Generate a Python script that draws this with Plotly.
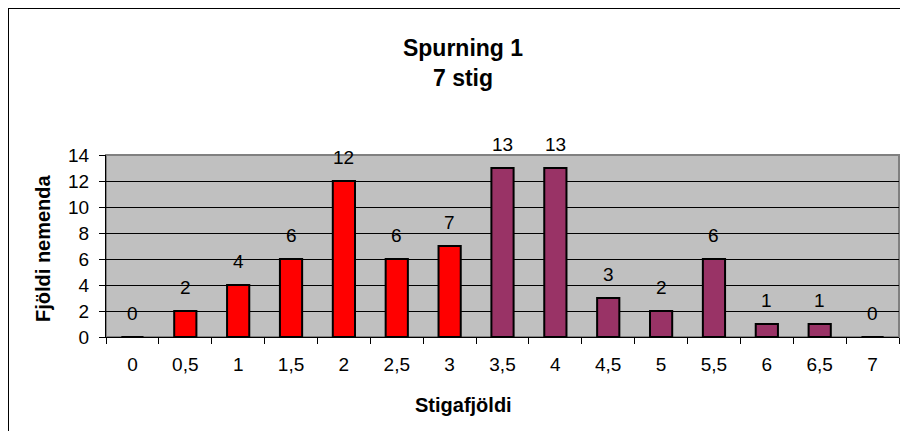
import plotly.graph_objects as go

categories = ["0", "0,5", "1", "1,5", "2", "2,5", "3", "3,5", "4", "4,5", "5", "5,5", "6", "6,5", "7"]
counts = [0, 2, 4, 6, 12, 6, 7, 13, 13, 3, 2, 6, 1, 1, 0]
split_index = 7  # first 7 categories red, rest purple

colors = ["#FF0000" if i < split_index else "#993366" for i in range(len(categories))]

OFF = 8  # page body margin
W, H = 908 - 2 * OFF, 439 - 2 * OFF   # fit inside the window without scrollbars
# plot area in screenshot pixels: x 106..899, y 155..337
L, T = 106 - OFF, 155 - OFF
R = (W + OFF) - 899
B = (H + OFF) - 337
pw, ph = W - L - R, H - T - B
FONT = "Liberation Sans, Arial"

def px_to_paper_x(px):
    return (px - OFF - L) / pw

def px_to_paper_y(py):
    return (H - B - (py - OFF)) / ph

fig = go.Figure()
fig.add_trace(go.Bar(
    x=list(range(len(categories))), y=counts,
    marker=dict(color=colors, line=dict(color="black", width=2)),
    width=0.42,
    showlegend=False,
    hoverinfo="y",
))

for i, v in enumerate(counts):
    fig.add_annotation(x=i, y=v, text=str(v), showarrow=False,
                       xanchor="center", yanchor="middle", yshift=24,
                       font=dict(family=FONT, size=19, color="black"))

# axis titles
fig.add_annotation(xref="paper", yref="paper", x=px_to_paper_x(463), y=px_to_paper_y(405),
                   text="<b>Stigafjöldi</b>", showarrow=False, xanchor="center", yanchor="middle",
                   font=dict(family=FONT, size=20, color="black"))
fig.add_annotation(xref="paper", yref="paper", x=px_to_paper_x(43), y=px_to_paper_y(248),
                   text="<b>Fjöldi nemenda</b>", showarrow=False, textangle=-90,
                   xanchor="center", yanchor="middle",
                   font=dict(family=FONT, size=20, color="black"))

# plot-area border (grey)
fig.add_shape(type="rect", xref="paper", yref="paper", x0=0, x1=1, y0=0, y1=1,
              line=dict(color="#808080", width=2), layer="below")
# outer chart border: only top and left edges visible in the frame
fig.add_shape(type="line", xref="paper", yref="paper",
              x0=px_to_paper_x(8), x1=px_to_paper_x(W + OFF),
              y0=px_to_paper_y(8), y1=px_to_paper_y(8),
              line=dict(color="black", width=2))
fig.add_shape(type="line", xref="paper", yref="paper",
              x0=px_to_paper_x(8), x1=px_to_paper_x(8),
              y0=px_to_paper_y(8), y1=px_to_paper_y(H + OFF),
              line=dict(color="black", width=2))

fig.update_layout(
    width=W, height=H,
    margin=dict(l=L, r=R, t=T, b=B, pad=0, autoexpand=False),
    paper_bgcolor="white",
    plot_bgcolor="#C0C0C0",
    font=dict(family=FONT, size=19, color="black"),
    title=dict(text="<b>Spurning 1<br>7 stig</b>", x=(463 - OFF) / W,
               xanchor="center", y=1 - (56 - OFF) / H, yanchor="middle",
               font=dict(size=23, family=FONT)),
)

fig.update_xaxes(
    range=[-0.5, len(categories) - 0.5],
    tickmode="array", tickvals=list(range(len(categories))), ticktext=categories,
    ticks="", showline=True, linecolor="black", linewidth=1,
    showgrid=False, zeroline=False,
    tickfont=dict(size=19),
    ticklabelstandoff=10,
    automargin=False,
    minor=dict(tickmode="array", tickvals=[i + 0.5 for i in range(-1, len(categories))],
               ticks="outside", ticklen=6, tickcolor="black", tickwidth=1, showgrid=False),
)
fig.update_yaxes(
    range=[0, 14], dtick=2,
    ticks="outside", ticklen=6, tickcolor="black", tickwidth=1,
    showline=True, linecolor="black", linewidth=1,
    showgrid=True, gridcolor="black", gridwidth=1,
    zeroline=False,
    tickfont=dict(size=19),
    ticklabelstandoff=6,
    automargin=False,
)

fig.write_html("out.html")
